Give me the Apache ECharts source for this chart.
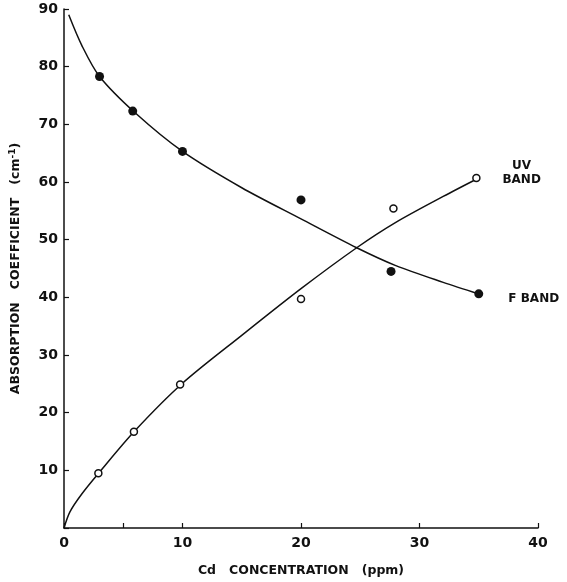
<!DOCTYPE html>
<html>
<head>
<meta charset="utf-8">
<script src="https://cdn.jsdelivr.net/npm/echarts@6/dist/echarts.min.js"></script>
<style>
html,body{margin:0;padding:0;background:#fff;}
#c{width:567px;height:582px;}
</style>
</head>
<body>
<div id="c"></div>
<script>
// Measured points (filled = F band, open = UV band)
const fPointsX = [3, 5.8, 10, 20, 27.6, 35];
const fPointsY = [78.3, 72.3, 65.3, 56.9, 44.5, 40.6];
const uvPointsX = [2.9, 5.9, 9.8, 20, 27.8, 34.8];
const uvPointsY = [9.5, 16.7, 24.9, 39.7, 55.4, 60.7];

// Hand-drawn fitted curves
const fCurveX = [0.4, 1.5, 3, 6, 10, 15, 20, 24.7, 28, 32, 35];
const fCurveY = [89, 83.7, 78.3, 72, 65.3, 59.0, 53.6, 48.6, 45.5, 42.6, 40.6];
const uvCurveX = [0, 0.5, 1.5, 3, 6, 10, 15, 20, 24.7, 28, 32, 35];
const uvCurveY = [0, 2.8, 5.9, 9.7, 16.9, 25.1, 33.4, 41.5, 48.6, 53.0, 57.5, 60.7];

const xTicks = [0, 5, 10, 20, 30, 40];
const xLabels = [0, 10, 20, 30, 40];
const yTicks = [0, 10, 20, 30, 40, 50, 60, 70, 80, 90];
const yLabels = [10, 20, 30, 40, 50, 60, 70, 80, 90];

const fLabel = 'F BAND';
const uvLabel = 'UV\nBAND';

const zip = (xs, ys) => xs.map((x, i) => [x, ys[i]]);
const font = 'DejaVu Sans';
const ink = '#111';

function withEndLabel(xs, ys, text, pos) {
  return xs.map((x, i) => {
    const item = { value: [x, ys[i]] };
    if (i === xs.length - 1) {
      item.label = {
        show: true, formatter: text, position: pos,
        align: 'center', verticalAlign: 'middle',
        fontFamily: font, fontWeight: 'bold', fontSize: 12, color: ink, lineHeight: 14
      };
    }
    return item;
  });
}

const chart = echarts.init(document.getElementById('c'), null, { renderer: 'canvas' });
chart.setOption({
  animation: false,
  backgroundColor: '#fff',
  grid: { left: 63, right: 29, top: 9, bottom: 48, containLabel: false },
  xAxis: {
    type: 'value', min: 0, max: 40, interval: 10,
    name: 'Cd   CONCENTRATION   (ppm)', nameLocation: 'middle', nameGap: 36,
    nameTextStyle: { fontFamily: font, fontWeight: 'bold', fontSize: 12.5, color: ink },
    axisLine: { show: true, lineStyle: { color: ink, width: 1.5 } },
    axisTick: { show: true, inside: true, length: 5, customValues: xTicks, lineStyle: { color: ink, width: 1.2 } },
    axisLabel: { customValues: xLabels, margin: 8, fontFamily: font, fontWeight: 'bold', fontSize: 14, color: ink },
    splitLine: { show: false }
  },
  yAxis: {
    type: 'value', min: 0, max: 90, interval: 10,
    name: 'ABSORPTION   COEFFICIENT   (cm{sup|-1})', nameLocation: 'middle', nameGap: 41, nameRotate: 90,
    nameTextStyle: {
      fontFamily: font, fontWeight: 'bold', fontSize: 12.5, color: ink,
      rich: { sup: { fontFamily: font, fontWeight: 'bold', fontSize: 9, color: ink, verticalAlign: 'bottom', padding: [0, 0, 6, 0] } }
    },
    axisLine: { show: true, lineStyle: { color: ink, width: 1.5 } },
    axisTick: { show: true, inside: true, length: 5, customValues: yTicks, lineStyle: { color: ink, width: 1.2 } },
    axisLabel: { customValues: yLabels, margin: 6, fontFamily: font, fontWeight: 'bold', fontSize: 14, color: ink },
    splitLine: { show: false }
  },
  series: [
    {
      type: 'line', data: zip(fCurveX, fCurveY), smooth: 0.3,
      showSymbol: false, lineStyle: { color: ink, width: 1.5 }, z: 2
    },
    {
      type: 'line', data: zip(uvCurveX, uvCurveY), smooth: 0.3,
      showSymbol: false, lineStyle: { color: ink, width: 1.5 }, z: 2
    },
    {
      type: 'scatter', data: withEndLabel(fPointsX, fPointsY, fLabel, [59.5, 9.5]),
      symbol: 'circle', symbolSize: 9,
      itemStyle: { color: ink, borderColor: ink, borderWidth: 0, opacity: 1 }, z: 3
    },
    {
      type: 'scatter', data: withEndLabel(uvPointsX, uvPointsY, uvLabel, [49.5, -1]),
      symbol: 'circle', symbolSize: 7,
      itemStyle: { color: '#fff', borderColor: ink, borderWidth: 1.5, opacity: 1 }, z: 3
    }
  ]
});
</script>
</body>
</html>
